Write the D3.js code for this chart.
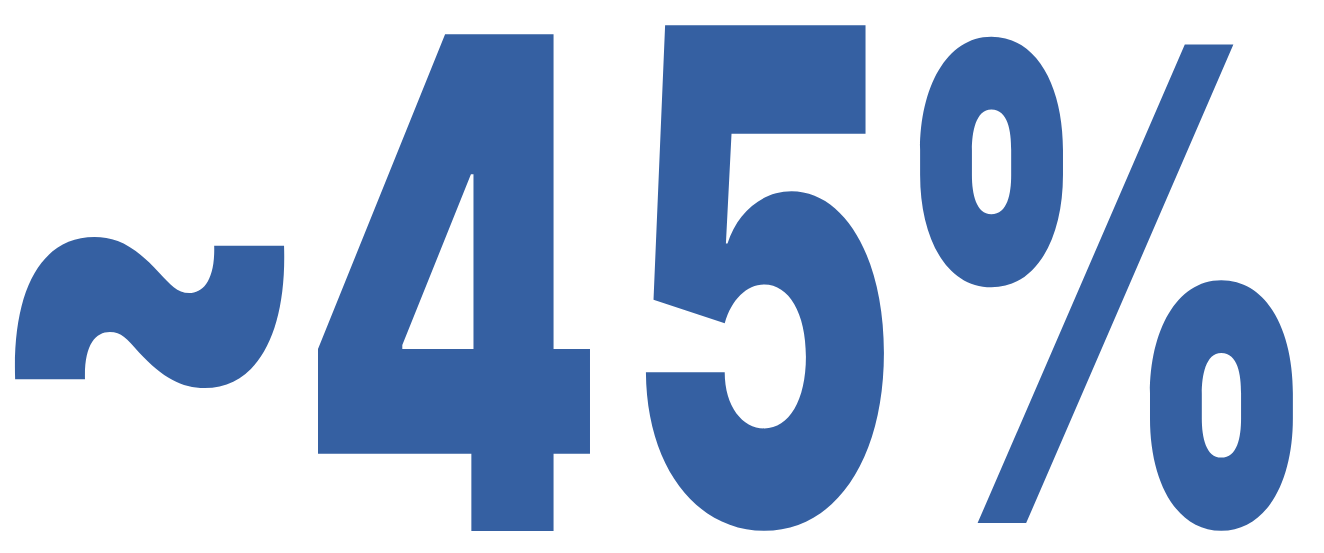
<!DOCTYPE html>
<html><head><meta charset="utf-8">
<script src="https://cdn.jsdelivr.net/npm/d3@7"></script>
<style>html,body{margin:0;padding:0;background:#fff;overflow:hidden}</style>
</head><body>
<script>
// Content
const label = "~45%";
const glyphs = ["~", "4", "5", "%"];
const fillColor = "#3560A2";

// Layout (ink boxes of each glyph in the picture: x0, y0, x1, y1)
const glyphBoxes = [
  [15, 237, 284, 388],
  [318, 34, 590, 531],
  [646, 25, 884, 531],
  [920, 37, 1293, 531]
];
const W = 1324, H = 553;
const FONT = "Inter, 'Liberation Sans', Arial, sans-serif";
const WEIGHT = 900;
const FS = 1000;

// measure real ink bounds of a glyph by scanning pixels
function inkBounds(ch) {
  const cw = 2000, chh = 2000, ox = 500, oy = 1400;
  const c = document.createElement("canvas");
  c.width = cw; c.height = chh;
  const ctx = c.getContext("2d");
  ctx.font = `${WEIGHT} ${FS}px ${FONT}`;
  ctx.fillStyle = "#000";
  ctx.fillText(ch, ox, oy);
  const data = ctx.getImageData(0, 0, cw, chh).data;
  let minX = cw, minY = chh, maxX = -1, maxY = -1;
  for (let y = 0; y < chh; y++) {
    for (let x = 0; x < cw; x++) {
      if (data[(y * cw + x) * 4 + 3] > 127) {
        if (x < minX) minX = x;
        if (x > maxX) maxX = x;
        if (y < minY) minY = y;
        if (y > maxY) maxY = y;
      }
    }
  }
  return { L: ox - minX, R: maxX + 1 - ox, A: oy - minY, D: maxY + 1 - oy };
}

const svg = d3.select("body").append("svg").attr("width", W).attr("height", H);
svg.append("title").text(label);

const g = svg.append("g");
g.selectAll("text").data(glyphs).join("text")
  .attr("font-family", FONT)
  .attr("font-weight", WEIGHT)
  .attr("font-size", FS)
  .attr("fill", fillColor)
  .attr("transform", (d, i) => {
    const b = inkBounds(d);
    const [x0, y0, x1, y1] = glyphBoxes[i];
    const sx = (x1 - x0) / (b.L + b.R);
    const sy = (y1 - y0) / (b.A + b.D);
    return `translate(${x0 + b.L * sx},${y0 + b.A * sy}) scale(${sx},${sy})`;
  })
  .text(d => d);
</script>
</body></html>
